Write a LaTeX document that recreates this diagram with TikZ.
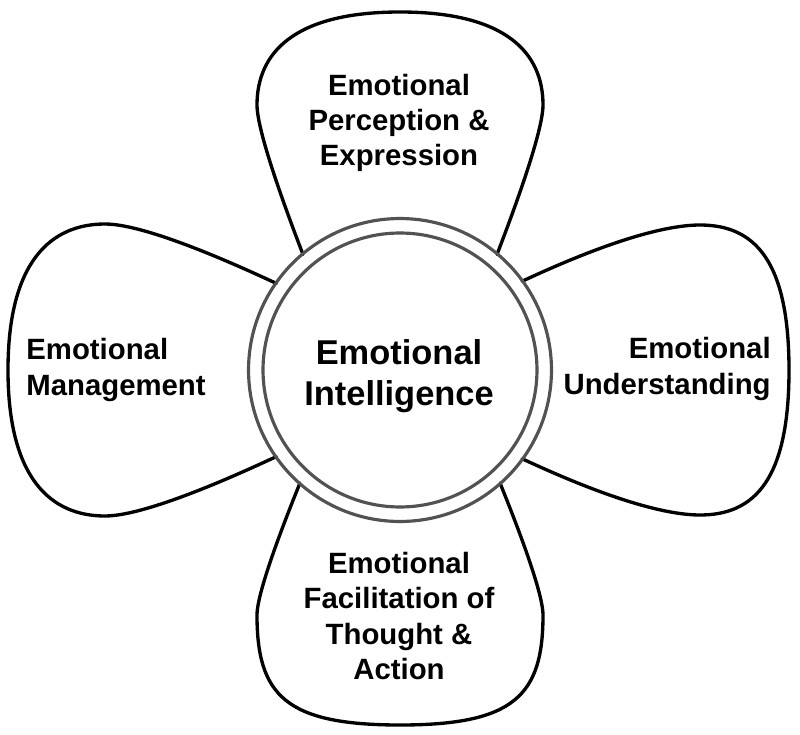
\documentclass[tikz,border=0pt]{standalone}
\usepackage{fontspec}
\setmainfont{Liberation Sans}
\usetikzlibrary{positioning}

\begin{document}
\begin{tikzpicture}[
  x=0.02cm, y=0.02cm,
  font=\bfseries,
  % petal outline and core ring
  petal/.style={draw=black, line width=1.9pt, line join=round, line cap=round},
  ring/.style={draw=black!68, line width=1.8pt},
  % labels
  petallabel/.style={font=\bfseries\fontsize{16.7}{20}\selectfont, inner sep=0pt, text=black},
  corelabel/.style={font=\bfseries\fontsize{19.6}{23}\selectfont, inner sep=0pt, align=center}
]
  \useasboundingbox (-400,-364) rectangle (400,370);

  % =============================================================
  % Petals: direction / length / widest point / opening / side slope
  %         / half width / cap fullness (along, across)
  % =============================================================
  \foreach \ang/\len/\uw/\op/\sl/\wd/\ka/\kb in {
      90/358/265/40/21/143/0.55/0.75,
      180/392/295/35/25/146/0.55/0.75,
      0/389/300/36/25/145/0.62/0.75,
      270/355/245/41.5/22/143/0.73/0.8}{
    \pgfmathsetmacro{\su}{151*cos(\op)}
    \pgfmathsetmacro{\sv}{151*sin(\op)}
    \pgfmathsetmacro{\ui}{\su+(\wd-\sv)/tan(\sl)}
    \pgfmathsetmacro{\ua}{\su+0.8*(\ui-\su)}
    \pgfmathsetmacro{\va}{\sv+0.8*(\wd-\sv)}
    \pgfmathsetmacro{\ub}{\uw-0.5*(\uw-\ui)}
    \pgfmathsetmacro{\uc}{\uw+\ka*(\len-\uw)}
    \pgfmathsetmacro{\vc}{\kb*\wd}
    \begin{scope}[rotate=\ang]
      \draw[petal] (\su,\sv)
            .. controls (\ua,\va) and (\ub,\wd) .. (\uw,\wd)
            .. controls (\uc,\wd) and (\len,\vc) .. (\len,0)
            .. controls (\len,-\vc) and (\uc,-\wd) .. (\uw,-\wd)
            .. controls (\ub,-\wd) and (\ua,-\va) .. (\su,-\sv);
    \end{scope}
  }

  % =============================================================
  % Core: double ring
  % =============================================================
  \draw[ring] (0,0) circle[radius=3.03cm];
  \draw[ring] (0,0) circle[radius=2.74cm];
  \node[corelabel] (core) at (-1,-6) {Emotional\\Intelligence};

  % --- petal labels ---
  \node[petallabel, align=center] (perception) at (-1,247)
       {Emotional\\Perception \&\\Expression};
  \node[petallabel, align=left, anchor=west] (management) at (-374,0)
       {Emotional\\Management};
  \node[petallabel, align=right, anchor=east] (understanding) at (371,1)
       {Emotional\\Understanding};
  \node[petallabel, align=center] (facilitation) at (-1,-246)
       {Emotional\\Facilitation of\\Thought \&\\Action};
\end{tikzpicture}
\end{document}
